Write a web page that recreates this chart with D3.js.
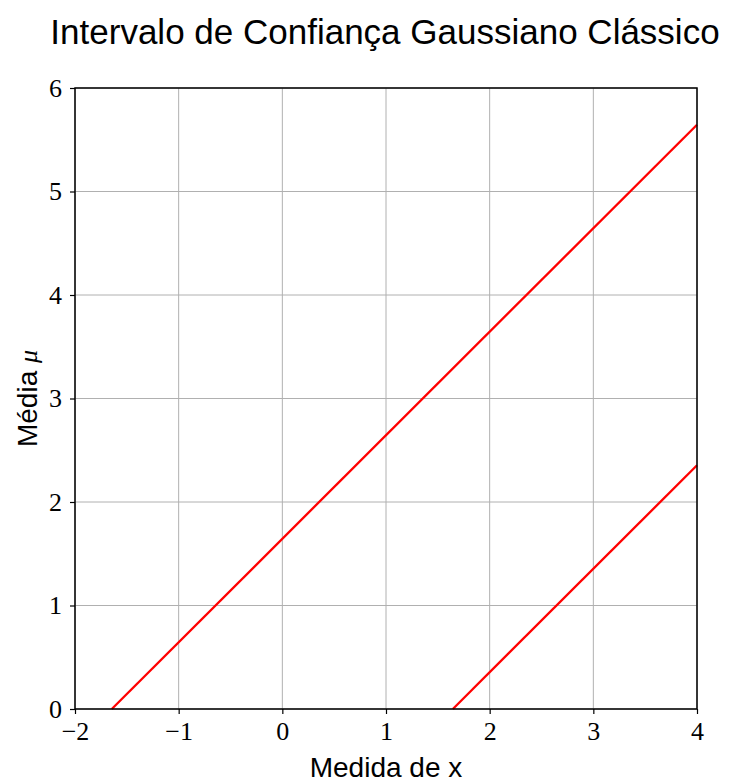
<!DOCTYPE html>
<html>
<head>
<meta charset="utf-8">
<script src="https://cdn.jsdelivr.net/npm/d3@7"></script>
<style>
  body { margin: 0; background: #fff; }
</style>
</head>
<body>
<svg id="chart" width="730" height="784"></svg>
<script>
// confidence band limits: mu = x + z and mu = x - z, z = 1.645
var xTicks = [-2, -1, 0, 1, 2, 3, 4];
var yTicks = [0, 1, 2, 3, 4, 5, 6];
var upperX = [-1.645, 4];
var upperMu = [0, 5.645];
var lowerX = [1.645, 4];
var lowerMu = [0, 2.355];

var svg = d3.select("#chart"),
    pLeft = 75,
    pRight = 697,
    pTop = 88,
    pBottom = 709;

var x = d3.scaleLinear().domain([-2, 4]).range([pLeft, pRight]);
var y = d3.scaleLinear().domain([0, 6]).range([pBottom, pTop]);

// grid
svg.append("g").selectAll("line").data(xTicks).enter().append("line")
    .attr("x1", d => x(d)).attr("x2", d => x(d))
    .attr("y1", pTop).attr("y2", pBottom)
    .attr("stroke", "#b0b0b0").attr("stroke-width", 1);
svg.append("g").selectAll("line").data(yTicks).enter().append("line")
    .attr("y1", d => y(d)).attr("y2", d => y(d))
    .attr("x1", pLeft).attr("x2", pRight)
    .attr("stroke", "#b0b0b0").attr("stroke-width", 1);

var line = d3.line().x(d => x(d[0])).y(d => y(d[1]));
[[upperX, upperMu], [lowerX, lowerMu]].forEach(function (s) {
    svg.append("path")
        .attr("d", line(d3.zip(s[0], s[1])))
        .attr("fill", "none")
        .attr("stroke", "#ff0000")
        .attr("stroke-width", 2.3);
});

var fmt = d => (d < 0 ? "\u2212" + Math.abs(d) : "" + d);

var xAxis = d3.axisBottom(x).tickValues(xTicks).tickFormat(fmt).tickSize(5).tickPadding(8);
var yAxis = d3.axisLeft(y).tickValues(yTicks).tickFormat(fmt).tickSize(5).tickPadding(8);

svg.append("g").attr("transform", "translate(0," + pBottom + ")").call(xAxis);
svg.append("g").attr("transform", "translate(" + pLeft + ",0)").call(yAxis);

svg.selectAll(".tick text")
    .attr("font-family", "'Liberation Serif', serif")
    .attr("font-size", 26)
    .attr("fill", "#000");
svg.selectAll(".tick line").attr("stroke", "#000").attr("stroke-width", 1.2);
svg.selectAll(".domain").remove();

// frame
svg.append("rect")
    .attr("x", pLeft).attr("y", pTop)
    .attr("width", pRight - pLeft).attr("height", pBottom - pTop)
    .attr("fill", "none").attr("stroke", "#000").attr("stroke-width", 1.5);

svg.append("text")
    .attr("x", 385).attr("y", 44)
    .attr("text-anchor", "middle")
    .attr("font-family", "'Liberation Sans', Arial, sans-serif")
    .attr("font-size", 35)
    .text("Intervalo de Confiança Gaussiano Clássico");

svg.append("text")
    .attr("x", (pLeft + pRight) / 2).attr("y", 777)
    .attr("text-anchor", "middle")
    .attr("font-family", "'Liberation Sans', Arial, sans-serif")
    .attr("font-size", 28)
    .text("Medida de x");

var yl = svg.append("text")
    .attr("transform", "translate(37," + ((pTop + pBottom) / 2) + ") rotate(-90)")
    .attr("text-anchor", "middle")
    .attr("font-family", "'Liberation Sans', Arial, sans-serif")
    .attr("font-size", 28);
yl.append("tspan").text("Média ");
yl.append("tspan")
    .attr("font-family", "'Liberation Serif', serif")
    .attr("font-style", "italic")
    .attr("font-size", 26)
    .text("\u03bc");
</script>
</body>
</html>
